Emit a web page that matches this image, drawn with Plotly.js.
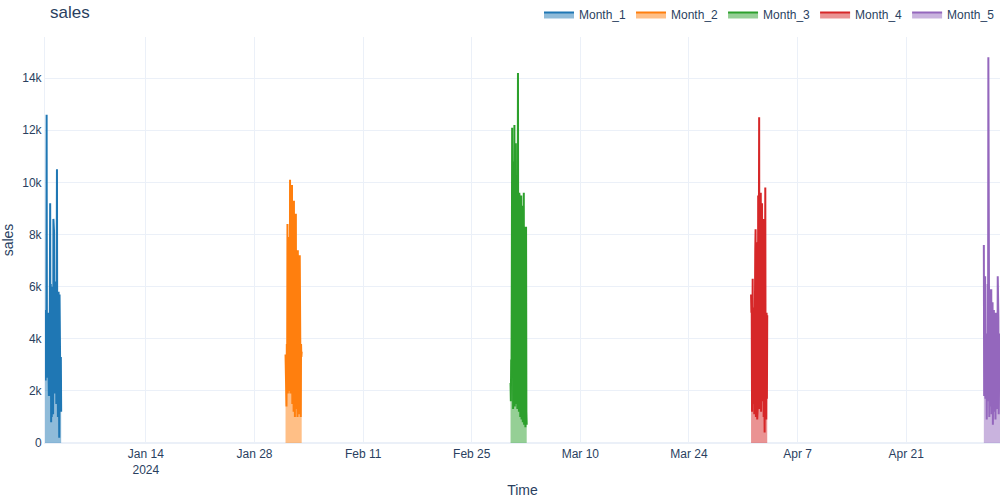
<!DOCTYPE html>
<html>
<head>
<meta charset="utf-8">
<script src="https://cdn.plot.ly/plotly-3.0.1.min.js"></script>
<style>
  html, body { margin: 0; padding: 0; background: #fff; }
  #plot { width: 1000px; height: 500px; }
</style>
</head>
<body>
<div id="plot"></div>
<script>
// series names and the first hour of each one
const seriesNames = ['Month_1', 'Month_2', 'Month_3', 'Month_4', 'Month_5'];
const seriesStart = ['2024-01-01', '2024-02-01', '2024-03-01', '2024-04-01', '2024-05-01'];
const colors = ['#1f77b4', '#ff7f0e', '#2ca02c', '#d62728', '#9467bd'];

// hourly sales
const month1 = [4300, 3500, 2400, 5100, 3600, 12600, 2500, 4200, 3800, 5000,
  2300, 4600, 1800, 3900, 2900, 5500, 9200, 1800, 6100, 800,
  5800, 1000, 6000, 2200, 4900, 1100, 8600, 1300, 8100, 3000,
  5600, 1900, 4400, 2700, 6200, 1500, 5100, 10500, 2000, 5300,
  1000, 4700, 5800, 1400, 200, 5700, 1800, 4100, 1200, 3300, 1200];

const month2 = [3400, 2800, 3300, 1400, 3800, 2500, 8400, 1900, 6200, 2600,
  7900, 2000, 5400, 2300, 10100, 1900, 10000, 2600, 7200, 2100,
  9900, 1500, 6800, 2400, 8100, 1200, 9300, 2800, 5600, 1000,
  7700, 2200, 8800, 1300, 6300, 2900, 5100, 1000, 7400, 2400,
  7300, 1600, 4800, 1100, 7200, 2700, 6500, 1000, 3800, 3300, 3500];

const month3 = [2300, 1600, 3200, 2800, 6500, 12100, 3300, 8700, 1300, 10800,
  3100, 7600, 12200, 1400, 9800, 3300, 11500, 1500, 8900, 3400,
  7200, 1300, 10200, 14200, 3100, 8100, 1200, 9600, 3300, 9300,
  1000, 8800, 2800, 9500, 900, 7600, 2300, 9100, 800, 8200,
  1900, 9600, 700, 7400, 2600, 8300, 600, 6900, 8300, 1200, 700];

const month4 = [5700, 5000, 5600, 1200, 4700, 6300, 1500, 5200, 2800, 4400,
  1100, 6100, 1900, 7400, 8200, 1000, 5800, 2200, 7700, 900,
  6900, 1500, 9500, 2400, 7100, 12500, 1300, 8900, 2600, 6700,
  9600, 1200, 7800, 1900, 9200, 1600, 6200, 2800, 8600, 1000,
  5400, 2200, 400, 7900, 9800, 1300, 4300, 900, 5000, 1700, 4900];

const month5 = [7600, 1800, 7500, 2600, 6400, 1700, 5800, 2300, 3700, 900,
  4200, 1600, 6100, 2500, 14800, 1800, 3400, 1000, 5900, 2200,
  4700, 1400, 3800, 5900, 1100, 4300, 2000, 5400, 700, 3900,
  1500, 5100, 1200, 4600, 2100, 3600, 900, 5000, 1700, 4100,
  2400, 3300, 1300, 6400, 1900, 4800, 1100, 3700, 2600, 4200, 3000];

const allValues = [month1, month2, month3, month4, month5];

function pad(n) {
  return String(n).padStart(2, '0');
}

// hourly timestamps starting at a given day
function hourlyTimes(startDay, count) {
  const t0 = Date.parse(startDay + 'T00:00:00Z');
  const out = [];
  for (let i = 0; i < count; i++) {
    const d = new Date(t0 + i * 3600 * 1000);
    out.push(`${d.getUTCFullYear()}-${pad(d.getUTCMonth() + 1)}-${pad(d.getUTCDate())} ${pad(d.getUTCHours())}:00`);
  }
  return out;
}

const traces = seriesNames.map((name, i) => ({
  x: hourlyTimes(seriesStart[i], allValues[i].length),
  y: allValues[i],
  type: 'scatter',
  mode: 'lines',
  fill: 'tozeroy',
  name: name,
  line: { color: colors[i], width: 2 }
}));

const gridColor = '#EBF0F8';

const layout = {
  title: {
    text: 'sales',
    x: 0.05,
    xanchor: 'left',
    y: 0.975,
    yanchor: 'middle',
    font: { size: 17, color: '#2a3f5f' }
  },
  font: { family: 'Arial, "Liberation Sans", sans-serif', size: 12, color: '#2a3f5f' },
  paper_bgcolor: '#fff',
  plot_bgcolor: '#fff',
  margin: { l: 45, r: 0, t: 37, b: 57 },
  showlegend: true,
  legend: {
    orientation: 'h',
    x: 1,
    xanchor: 'right',
    y: 1.02,
    yanchor: 'bottom'
  },
  xaxis: {
    title: { text: 'Time' },
    type: 'date',
    showgrid: true,
    gridcolor: gridColor,
    linecolor: gridColor,
    zerolinecolor: gridColor,
    ticks: ''
  },
  yaxis: {
    title: { text: 'sales' },
    showgrid: true,
    gridcolor: gridColor,
    linecolor: gridColor,
    zeroline: true,
    zerolinecolor: gridColor,
    zerolinewidth: 2,
    ticks: ''
  }
};

Plotly.newPlot('plot', traces, layout, { displayModeBar: false });
</script>
</body>
</html>
